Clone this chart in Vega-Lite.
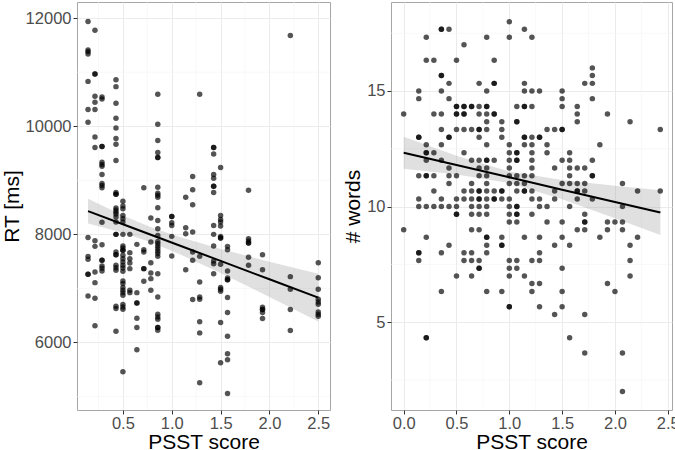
{
 "$schema": "https://vega.github.io/schema/vega-lite/v6.json",
 "padding": {"left": 0, "top": 1, "right": 4, "bottom": 0},
 "spacing": 11,
 "config": {
  "font": "Liberation Sans",
  "view": {"stroke": "#a6a6a6", "strokeWidth": 1},
  "axis": {"domain": false, "grid": true, "gridColor": "#ebebeb", "tickColor": "#333333", "tickSize": 4, "labelOverlap": false, "labelFont": "Liberation Sans", "labelFontSize": 16.5, "labelColor": "#4d4d4d", "labelPadding": 2, "titleFont": "Liberation Sans", "titleFontSize": 21, "titleFontWeight": "normal", "titleColor": "#000000", "titlePadding": 3},
  "axisX": {"labelPadding": 1, "titlePadding": 0}
 },
 "datasets": {
  "rtgridx": [{"v":0.25},{"v":0.75},{"v":1.25},{"v":1.75},{"v":2.25}],
  "rtgridy": [{"v":5000},{"v":7000},{"v":9000},{"v":11000}],
  "wgridx": [{"v":0.25},{"v":0.75},{"v":1.25},{"v":1.75},{"v":2.25}],
  "wgridy": [{"v":2.5},{"v":7.5},{"v":12.5},{"v":17.5}],
  "rt": [
   {"psst":0.143,"rt":11940},{"psst":0.143,"rt":11410},{"psst":0.143,"rt":11380},{"psst":0.143,"rt":11336},{"psst":0.143,"rt":10831},{"psst":0.143,"rt":10309},{"psst":0.143,"rt":10074},{"psst":0.143,"rt":7944},{"psst":0.143,"rt":7593},{"psst":0.143,"rt":7538},{"psst":0.143,"rt":7261},{"psst":0.143,"rt":7261},{"psst":0.143,"rt":6861},
   {"psst":0.214,"rt":11779},{"psst":0.214,"rt":10966},{"psst":0.214,"rt":10966},{"psst":0.214,"rt":10554},{"psst":0.214,"rt":10444},{"psst":0.214,"rt":10309},{"psst":0.214,"rt":9803},{"psst":0.214,"rt":9607},{"psst":0.214,"rt":7883},{"psst":0.214,"rt":7778},{"psst":0.214,"rt":7304},{"psst":0.214,"rt":7107},{"psst":0.214,"rt":6818},{"psst":0.214,"rt":6307},
   {"psst":0.286,"rt":10541},{"psst":0.286,"rt":10504},{"psst":0.286,"rt":9625},{"psst":0.286,"rt":9625},{"psst":0.286,"rt":9335},{"psst":0.286,"rt":9293},{"psst":0.286,"rt":9261},{"psst":0.286,"rt":9108},{"psst":0.286,"rt":8942},{"psst":0.286,"rt":8905},{"psst":0.286,"rt":8861},{"psst":0.286,"rt":8225},{"psst":0.286,"rt":7809},{"psst":0.286,"rt":7520},{"psst":0.286,"rt":7520},{"psst":0.286,"rt":7415},{"psst":0.286,"rt":7372},{"psst":0.286,"rt":7323},
   {"psst":0.429,"rt":10863},{"psst":0.429,"rt":10734},{"psst":0.429,"rt":10425},{"psst":0.429,"rt":10148},{"psst":0.429,"rt":9969},{"psst":0.429,"rt":9773},{"psst":0.429,"rt":9668},{"psst":0.429,"rt":9367},{"psst":0.429,"rt":8776},{"psst":0.429,"rt":8744},{"psst":0.429,"rt":8744},{"psst":0.429,"rt":8486},{"psst":0.429,"rt":8449},{"psst":0.429,"rt":8412},{"psst":0.429,"rt":8375},{"psst":0.429,"rt":8320},{"psst":0.429,"rt":8227},{"psst":0.429,"rt":8000},{"psst":0.429,"rt":8000},{"psst":0.429,"rt":7673},{"psst":0.429,"rt":7624},{"psst":0.429,"rt":7624},{"psst":0.429,"rt":7427},{"psst":0.429,"rt":7384},{"psst":0.429,"rt":7335},{"psst":0.429,"rt":6670},{"psst":0.429,"rt":6627},{"psst":0.429,"rt":6208},
   {"psst":0.5,"rt":8615},{"psst":0.5,"rt":8523},{"psst":0.5,"rt":8473},{"psst":0.5,"rt":8351},{"psst":0.5,"rt":8289},{"psst":0.5,"rt":8228},{"psst":0.5,"rt":8000},{"psst":0.5,"rt":7784},{"psst":0.5,"rt":7747},{"psst":0.5,"rt":7704},{"psst":0.5,"rt":7704},{"psst":0.5,"rt":7612},{"psst":0.5,"rt":7550},{"psst":0.5,"rt":7489},{"psst":0.5,"rt":7427},{"psst":0.5,"rt":7378},{"psst":0.5,"rt":7316},{"psst":0.5,"rt":7138},{"psst":0.5,"rt":7089},{"psst":0.5,"rt":7015},{"psst":0.5,"rt":6966},{"psst":0.5,"rt":6922},{"psst":0.5,"rt":6873},{"psst":0.5,"rt":6701},{"psst":0.5,"rt":6658},{"psst":0.5,"rt":6614},{"psst":0.5,"rt":5457},
   {"psst":0.571,"rt":8000},{"psst":0.571,"rt":7661},{"psst":0.571,"rt":7550},{"psst":0.571,"rt":7470},{"psst":0.571,"rt":7366},{"psst":0.571,"rt":6966},{"psst":0.571,"rt":6922},
   {"psst":0.643,"rt":7815},{"psst":0.643,"rt":6922},{"psst":0.643,"rt":6731},{"psst":0.643,"rt":6731},{"psst":0.643,"rt":6448},{"psst":0.643,"rt":6276},{"psst":0.643,"rt":5863},
   {"psst":0.714,"rt":8861},{"psst":0.714,"rt":7717},{"psst":0.714,"rt":7673},{"psst":0.714,"rt":7366},{"psst":0.714,"rt":7366},{"psst":0.714,"rt":7132},
   {"psst":0.786,"rt":8305},{"psst":0.786,"rt":7858},{"psst":0.786,"rt":7476},{"psst":0.786,"rt":7286},{"psst":0.786,"rt":7181},{"psst":0.786,"rt":6966},
   {"psst":0.857,"rt":10591},{"psst":0.857,"rt":10037},{"psst":0.857,"rt":9736},{"psst":0.857,"rt":9514},{"psst":0.857,"rt":9422},{"psst":0.857,"rt":9422},{"psst":0.857,"rt":8874},{"psst":0.857,"rt":8763},{"psst":0.857,"rt":8726},{"psst":0.857,"rt":8689},{"psst":0.857,"rt":8491},{"psst":0.857,"rt":8258},{"psst":0.857,"rt":8104},{"psst":0.857,"rt":7981},{"psst":0.857,"rt":7870},{"psst":0.857,"rt":7827},{"psst":0.857,"rt":7778},{"psst":0.857,"rt":7735},{"psst":0.857,"rt":7686},{"psst":0.857,"rt":7643},{"psst":0.857,"rt":7593},{"psst":0.857,"rt":7273},{"psst":0.857,"rt":6842},{"psst":0.857,"rt":6522},{"psst":0.857,"rt":6473},{"psst":0.857,"rt":6430},{"psst":0.857,"rt":6276},{"psst":0.857,"rt":6276},{"psst":0.857,"rt":6227},
   {"psst":1.0,"rt":8332},{"psst":1.0,"rt":8332},{"psst":1.0,"rt":8215},{"psst":1.0,"rt":8166},{"psst":1.0,"rt":7963},{"psst":1.0,"rt":7600},
   {"psst":1.143,"rt":8689},{"psst":1.143,"rt":8123},{"psst":1.143,"rt":8012},{"psst":1.143,"rt":7347},
   {"psst":1.214,"rt":9071},{"psst":1.214,"rt":8824},{"psst":1.214,"rt":8547},{"psst":1.214,"rt":8043},{"psst":1.214,"rt":7673},{"psst":1.214,"rt":7520},{"psst":1.214,"rt":6793},
   {"psst":1.286,"rt":10591},{"psst":1.286,"rt":7593},{"psst":1.286,"rt":7119},{"psst":1.286,"rt":6842},{"psst":1.286,"rt":6799},{"psst":1.286,"rt":6381},{"psst":1.286,"rt":6177},{"psst":1.286,"rt":5254},
   {"psst":1.429,"rt":9607},{"psst":1.429,"rt":9607},{"psst":1.429,"rt":9489},{"psst":1.429,"rt":9108},{"psst":1.429,"rt":9040},{"psst":1.429,"rt":8892},{"psst":1.429,"rt":8892},{"psst":1.429,"rt":8776},{"psst":1.429,"rt":8166},{"psst":1.429,"rt":8000},{"psst":1.429,"rt":7784},{"psst":1.429,"rt":7507},{"psst":1.429,"rt":7458},{"psst":1.429,"rt":7273},
   {"psst":1.5,"rt":9237},{"psst":1.5,"rt":8351},{"psst":1.5,"rt":8277},{"psst":1.5,"rt":8228},{"psst":1.5,"rt":8154},{"psst":1.5,"rt":7963},{"psst":1.5,"rt":7932},{"psst":1.5,"rt":7932},{"psst":1.5,"rt":7446},{"psst":1.5,"rt":7015},{"psst":1.5,"rt":6984},{"psst":1.5,"rt":6947},{"psst":1.5,"rt":6368},{"psst":1.5,"rt":5623},
   {"psst":1.571,"rt":7778},{"psst":1.571,"rt":7717},{"psst":1.571,"rt":7323},{"psst":1.571,"rt":7193},{"psst":1.571,"rt":7162},{"psst":1.571,"rt":7162},{"psst":1.571,"rt":6830},{"psst":1.571,"rt":6553},{"psst":1.571,"rt":6116},{"psst":1.571,"rt":5789},{"psst":1.571,"rt":5679},{"psst":1.571,"rt":5057},
   {"psst":1.786,"rt":8818},{"psst":1.786,"rt":7920},{"psst":1.786,"rt":7877},{"psst":1.786,"rt":7840},{"psst":1.786,"rt":7840},{"psst":1.786,"rt":7575},{"psst":1.786,"rt":7427},
   {"psst":1.929,"rt":7624},{"psst":1.929,"rt":7347},{"psst":1.929,"rt":6651},{"psst":1.929,"rt":6608},{"psst":1.929,"rt":6608},{"psst":1.929,"rt":6553},{"psst":1.929,"rt":6442},
   {"psst":2.214,"rt":11681},{"psst":2.214,"rt":7218},{"psst":2.214,"rt":6984},{"psst":2.214,"rt":6608},{"psst":2.214,"rt":6220},
   {"psst":2.5,"rt":7476},{"psst":2.5,"rt":7199},{"psst":2.5,"rt":6984},{"psst":2.5,"rt":6799},{"psst":2.5,"rt":6750},{"psst":2.5,"rt":6707},{"psst":2.5,"rt":6565},{"psst":2.5,"rt":6522},{"psst":2.5,"rt":6485}
  ],
  "rtfit": [
   {"psst":0.143,"fit":8430,"lo":8200,"hi":8660},
   {"psst":0.5,"fit":8188,"lo":8028,"hi":8348},
   {"psst":0.8,"fit":7984,"lo":7844,"hi":8124},
   {"psst":1.1,"fit":7780,"lo":7620,"hi":7940},
   {"psst":1.5,"fit":7509,"lo":7287,"hi":7731},
   {"psst":2.0,"fit":7169,"lo":6843,"hi":7495},
   {"psst":2.5,"fit":6830,"lo":6390,"hi":7270}
  ],
  "words": [
   {"psst":1.0,"words":18},
   {"psst":0.357,"words":17.67},{"psst":0.357,"words":17.67},{"psst":0.429,"words":17.67},{"psst":1.143,"words":17.67},
   {"psst":0.214,"words":17.33},{"psst":0.786,"words":17.33},{"psst":1.0,"words":17.33},{"psst":1.214,"words":17.33},
   {"psst":0.571,"words":17},
   {"psst":0.214,"words":16.33},{"psst":0.286,"words":16.33},{"psst":0.5,"words":16.33},{"psst":0.857,"words":16.33},
   {"psst":1.786,"words":16},
   {"psst":0.357,"words":15.67},{"psst":0.357,"words":15.67},{"psst":1.786,"words":15.67},
   {"psst":0.429,"words":15.33},{"psst":0.714,"words":15.33},{"psst":0.857,"words":15.33},{"psst":0.857,"words":15.33},{"psst":1.143,"words":15.33},{"psst":1.714,"words":15.33},{"psst":1.786,"words":15.33},
   {"psst":0.143,"words":15},{"psst":0.357,"words":15},{"psst":0.786,"words":15},{"psst":1.143,"words":15},{"psst":1.214,"words":15},{"psst":1.286,"words":15},{"psst":1.5,"words":15},
   {"psst":0.143,"words":14.67},{"psst":0.429,"words":14.67},{"psst":1.5,"words":14.67},{"psst":1.786,"words":14.67},
   {"psst":0.5,"words":14.33},{"psst":0.5,"words":14.33},{"psst":0.571,"words":14.33},{"psst":0.571,"words":14.33},{"psst":0.643,"words":14.33},{"psst":0.643,"words":14.33},{"psst":0.714,"words":14.33},{"psst":0.786,"words":14.33},{"psst":0.786,"words":14.33},{"psst":1.071,"words":14.33},{"psst":1.143,"words":14.33},{"psst":1.143,"words":14.33},{"psst":1.214,"words":14.33},{"psst":1.5,"words":14.33},{"psst":1.643,"words":14.33},
   {"psst":0.0,"words":14},{"psst":0.286,"words":14},{"psst":0.357,"words":14},{"psst":0.5,"words":14},{"psst":0.5,"words":14},{"psst":0.571,"words":14},{"psst":0.571,"words":14},{"psst":0.714,"words":14},{"psst":0.786,"words":14},{"psst":0.857,"words":14},{"psst":0.857,"words":14},{"psst":1.643,"words":14},{"psst":1.929,"words":14},
   {"psst":0.786,"words":13.67},{"psst":0.929,"words":13.67},{"psst":1.071,"words":13.67},{"psst":1.071,"words":13.67},{"psst":1.643,"words":13.67},{"psst":2.143,"words":13.67},
   {"psst":0.357,"words":13.33},{"psst":0.5,"words":13.33},{"psst":0.571,"words":13.33},{"psst":0.643,"words":13.33},{"psst":0.714,"words":13.33},{"psst":0.714,"words":13.33},{"psst":0.786,"words":13.33},{"psst":0.929,"words":13.33},{"psst":1.357,"words":13.33},{"psst":1.429,"words":13.33},{"psst":1.5,"words":13.33},{"psst":1.5,"words":13.33},{"psst":2.429,"words":13.33},
   {"psst":0.143,"words":13},{"psst":0.143,"words":13},{"psst":0.429,"words":13},{"psst":0.429,"words":13},{"psst":0.714,"words":13},{"psst":0.929,"words":13},{"psst":1.143,"words":13},{"psst":1.143,"words":13},{"psst":1.214,"words":13},{"psst":1.286,"words":13},{"psst":1.286,"words":13},
   {"psst":0.214,"words":12.67},{"psst":0.357,"words":12.67},{"psst":0.786,"words":12.67},{"psst":1.0,"words":12.67},{"psst":1.143,"words":12.67},{"psst":1.214,"words":12.67},{"psst":1.357,"words":12.67},{"psst":1.857,"words":12.67},
   {"psst":0.214,"words":12.33},{"psst":0.214,"words":12.33},{"psst":0.286,"words":12.33},{"psst":0.571,"words":12.33},{"psst":1.0,"words":12.33},{"psst":1.071,"words":12.33},{"psst":1.071,"words":12.33},{"psst":1.214,"words":12.33},{"psst":1.357,"words":12.33},{"psst":1.571,"words":12.33},
   {"psst":0.214,"words":12},{"psst":0.357,"words":12},{"psst":0.643,"words":12},{"psst":0.714,"words":12},{"psst":0.786,"words":12},{"psst":0.786,"words":12},{"psst":0.857,"words":12},{"psst":1.0,"words":12},{"psst":1.071,"words":12},{"psst":1.071,"words":12},{"psst":1.214,"words":12},{"psst":1.5,"words":12},{"psst":1.571,"words":12},{"psst":1.786,"words":12},
   {"psst":0.429,"words":11.67},{"psst":0.714,"words":11.67},{"psst":0.786,"words":11.67},{"psst":1.0,"words":11.67},{"psst":1.214,"words":11.67},{"psst":1.429,"words":11.67},{"psst":1.571,"words":11.67},{"psst":1.643,"words":11.67},{"psst":1.714,"words":11.67},
   {"psst":0.143,"words":11.33},{"psst":0.214,"words":11.33},{"psst":0.214,"words":11.33},{"psst":0.286,"words":11.33},{"psst":0.429,"words":11.33},{"psst":0.5,"words":11.33},{"psst":0.714,"words":11.33},{"psst":0.786,"words":11.33},{"psst":1.0,"words":11.33},{"psst":1.071,"words":11.33},{"psst":1.143,"words":11.33},{"psst":1.214,"words":11.33},{"psst":1.571,"words":11.33},{"psst":1.786,"words":11.33},{"psst":1.786,"words":11.33},
   {"psst":0.429,"words":11},{"psst":0.643,"words":11},{"psst":0.786,"words":11},{"psst":1.0,"words":11},{"psst":1.071,"words":11},{"psst":1.143,"words":11},{"psst":1.5,"words":11},{"psst":1.571,"words":11},{"psst":1.643,"words":11},{"psst":1.714,"words":11},{"psst":2.071,"words":11},
   {"psst":0.286,"words":10.67},{"psst":0.571,"words":10.67},{"psst":0.643,"words":10.67},{"psst":0.714,"words":10.67},{"psst":0.714,"words":10.67},{"psst":0.786,"words":10.67},{"psst":0.857,"words":10.67},{"psst":0.929,"words":10.67},{"psst":0.929,"words":10.67},{"psst":1.071,"words":10.67},{"psst":1.143,"words":10.67},{"psst":1.143,"words":10.67},{"psst":1.214,"words":10.67},{"psst":1.429,"words":10.67},{"psst":1.643,"words":10.67},{"psst":1.643,"words":10.67},{"psst":1.714,"words":10.67},{"psst":2.214,"words":10.67},{"psst":2.429,"words":10.67},
   {"psst":0.143,"words":10.33},{"psst":0.357,"words":10.33},{"psst":0.5,"words":10.33},{"psst":0.571,"words":10.33},{"psst":0.643,"words":10.33},{"psst":0.714,"words":10.33},{"psst":0.714,"words":10.33},{"psst":0.786,"words":10.33},{"psst":0.857,"words":10.33},{"psst":0.857,"words":10.33},{"psst":0.929,"words":10.33},{"psst":1.0,"words":10.33},{"psst":1.214,"words":10.33},{"psst":1.286,"words":10.33},{"psst":1.429,"words":10.33},{"psst":1.643,"words":10.33},{"psst":1.786,"words":10.33},
   {"psst":0.143,"words":10},{"psst":0.214,"words":10},{"psst":0.286,"words":10},{"psst":0.357,"words":10},{"psst":0.429,"words":10},{"psst":0.5,"words":10},{"psst":0.643,"words":10},{"psst":0.714,"words":10},{"psst":0.786,"words":10},{"psst":1.0,"words":10},{"psst":1.071,"words":10},{"psst":1.071,"words":10},{"psst":1.286,"words":10},{"psst":1.357,"words":10},{"psst":1.571,"words":10},{"psst":2.071,"words":10},
   {"psst":0.5,"words":9.67},{"psst":0.5,"words":9.67},{"psst":0.643,"words":9.67},{"psst":0.714,"words":9.67},{"psst":0.786,"words":9.67},{"psst":1.0,"words":9.67},{"psst":1.071,"words":9.67},{"psst":1.071,"words":9.67},{"psst":1.214,"words":9.67},{"psst":1.714,"words":9.67},
   {"psst":1.0,"words":9.33},{"psst":1.071,"words":9.33},{"psst":1.357,"words":9.33},{"psst":1.5,"words":9.33},{"psst":1.714,"words":9.33},{"psst":1.714,"words":9.33},{"psst":1.929,"words":9.33},{"psst":2.0,"words":9.33},{"psst":2.071,"words":9.33},
   {"psst":0.0,"words":9},{"psst":0.643,"words":9},{"psst":0.714,"words":9},{"psst":1.643,"words":9},{"psst":1.714,"words":9},{"psst":1.929,"words":9},{"psst":2.071,"words":9},
   {"psst":0.214,"words":8.67},{"psst":0.786,"words":8.67},{"psst":0.786,"words":8.67},{"psst":0.929,"words":8.67},{"psst":1.143,"words":8.67},{"psst":1.286,"words":8.67},{"psst":1.5,"words":8.67},{"psst":1.857,"words":8.67},{"psst":2.214,"words":8.67},
   {"psst":0.429,"words":8.33},{"psst":0.786,"words":8.33},{"psst":0.929,"words":8.33},{"psst":0.929,"words":8.33},{"psst":1.429,"words":8.33},{"psst":1.571,"words":8.33},{"psst":2.143,"words":8.33},
   {"psst":0.143,"words":8},{"psst":0.143,"words":8},{"psst":0.357,"words":8},{"psst":0.571,"words":8},{"psst":0.643,"words":8},{"psst":0.786,"words":8},{"psst":1.286,"words":8},
   {"psst":0.143,"words":7.67},{"psst":0.571,"words":7.67},{"psst":0.643,"words":7.67},{"psst":0.714,"words":7.67},{"psst":1.0,"words":7.67},{"psst":1.071,"words":7.67},{"psst":1.214,"words":7.67},{"psst":1.286,"words":7.67},{"psst":2.143,"words":7.67},
   {"psst":0.714,"words":7.33},{"psst":0.714,"words":7.33},{"psst":1.0,"words":7.33},{"psst":1.071,"words":7.33},{"psst":1.5,"words":7.33},
   {"psst":0.5,"words":7},{"psst":0.643,"words":7},{"psst":1.0,"words":7},{"psst":1.143,"words":7},{"psst":2.143,"words":7},
   {"psst":1.214,"words":6.67},{"psst":1.286,"words":6.67},{"psst":1.929,"words":6.67},
   {"psst":0.357,"words":6.33},{"psst":0.786,"words":6.33},{"psst":0.929,"words":6.33},{"psst":1.214,"words":6.33},{"psst":1.5,"words":6.33},{"psst":2.0,"words":6.33},
   {"psst":1.0,"words":5.67},{"psst":1.0,"words":5.67},{"psst":1.286,"words":5.67},{"psst":1.5,"words":5.67},
   {"psst":1.429,"words":5.33},{"psst":1.714,"words":5.33},
   {"psst":0.214,"words":4.33},{"psst":0.214,"words":4.33},{"psst":1.571,"words":4.33},
   {"psst":1.714,"words":3.67},{"psst":2.071,"words":3.67},
   {"psst":2.071,"words":2}
  ],
  "wordsfit": [
   {"psst":0.0,"fit":12.33,"lo":11.64,"hi":13.02},
   {"psst":0.5,"fit":11.8,"lo":11.39,"hi":12.2},
   {"psst":1.0,"fit":11.27,"lo":11.02,"hi":11.52},
   {"psst":1.5,"fit":10.73,"lo":10.32,"hi":11.15},
   {"psst":2.0,"fit":10.2,"lo":9.5,"hi":10.9},
   {"psst":2.43,"fit":9.74,"lo":8.77,"hi":10.71}
  ]
 },
 "hconcat": [
  {
   "width": 253,
   "height": 408,
   "layer": [
    {
     "data": {"name": "rtgridx"},
     "mark": {"type": "rule", "color": "#f3f3f3", "strokeWidth": 0.6},
     "encoding": {"x": {"field": "v", "type": "quantitative", "title": "PSST score"}}
    },
    {
     "data": {"name": "rtgridy"},
     "mark": {"type": "rule", "color": "#f3f3f3", "strokeWidth": 0.6},
     "encoding": {"y": {"field": "v", "type": "quantitative", "title": "RT [ms]"}}
    },
    {
     "data": {"name": "rtfit"},
     "mark": {"type": "area", "color": "#999999", "opacity": 0.3},
     "encoding": {
      "x": {"field": "psst", "type": "quantitative", "title": "PSST score",
        "scale": {"domain": [0.03, 2.62], "nice": false, "zero": false},
        "axis": {"values": [0.5, 1.0, 1.5, 2.0, 2.5], "format": ".1f"}},
      "y": {"field": "lo", "type": "quantitative", "title": "RT [ms]",
        "scale": {"domain": [4750, 12300], "nice": false, "zero": false},
        "axis": {"values": [6000, 8000, 10000, 12000], "format": "d"}},
      "y2": {"field": "hi"}
     }
    },
    {
     "data": {"name": "rt"},
     "mark": {"type": "circle", "size": 30, "color": "#000000", "opacity": 0.67},
     "encoding": {
      "x": {"field": "psst", "type": "quantitative", "title": "PSST score"},
      "y": {"field": "rt", "type": "quantitative", "title": "RT [ms]"}
     }
    },
    {
     "data": {"name": "rtfit"},
     "mark": {"type": "line", "color": "#000000", "strokeWidth": 2},
     "encoding": {
      "x": {"field": "psst", "type": "quantitative", "title": "PSST score"},
      "y": {"field": "fit", "type": "quantitative", "title": "RT [ms]"}
     }
    }
   ]
  },
  {
   "width": 281,
   "height": 408,
   "layer": [
    {
     "data": {"name": "wgridx"},
     "mark": {"type": "rule", "color": "#f3f3f3", "strokeWidth": 0.6},
     "encoding": {"x": {"field": "v", "type": "quantitative", "title": "PSST score"}}
    },
    {
     "data": {"name": "wgridy"},
     "mark": {"type": "rule", "color": "#f3f3f3", "strokeWidth": 0.6},
     "encoding": {"y": {"field": "v", "type": "quantitative", "title": "# words"}}
    },
    {
     "data": {"name": "wordsfit"},
     "mark": {"type": "area", "color": "#999999", "opacity": 0.3},
     "encoding": {
      "x": {"field": "psst", "type": "quantitative", "title": "PSST score",
        "scale": {"domain": [-0.12, 2.54], "nice": false, "zero": false},
        "axis": {"values": [0, 0.5, 1.0, 1.5, 2.0, 2.5], "format": ".1f"}},
      "y": {"field": "lo", "type": "quantitative", "title": "# words",
        "scale": {"domain": [1.2, 18.85], "nice": false, "zero": false},
        "axis": {"values": [5, 10, 15], "format": "d"}},
      "y2": {"field": "hi"}
     }
    },
    {
     "data": {"name": "words"},
     "mark": {"type": "circle", "size": 30, "color": "#000000", "opacity": 0.67},
     "encoding": {
      "x": {"field": "psst", "type": "quantitative", "title": "PSST score"},
      "y": {"field": "words", "type": "quantitative", "title": "# words"}
     }
    },
    {
     "data": {"name": "wordsfit"},
     "mark": {"type": "line", "color": "#000000", "strokeWidth": 2},
     "encoding": {
      "x": {"field": "psst", "type": "quantitative", "title": "PSST score"},
      "y": {"field": "fit", "type": "quantitative", "title": "# words"}
     }
    }
   ]
  }
 ]
}
